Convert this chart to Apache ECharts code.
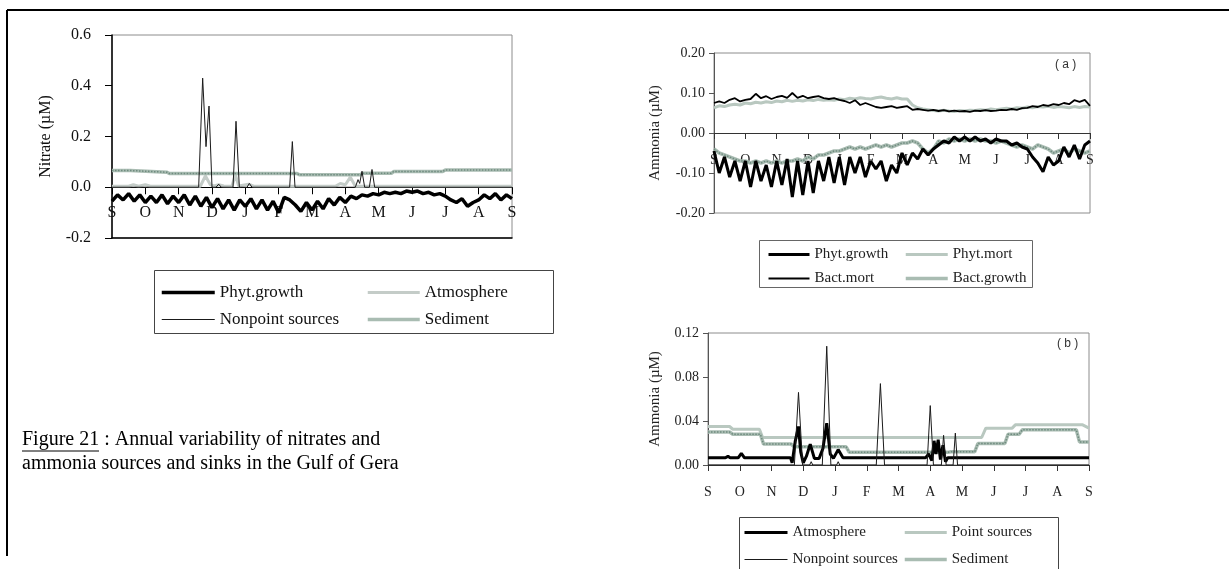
<!DOCTYPE html>
<html><head><meta charset="utf-8">
<script src="https://cdn.jsdelivr.net/npm/echarts@6/dist/echarts.min.js"></script>
<style>html,body{margin:0;padding:0;background:#fff}#c{width:1229px;height:569px}</style>
</head><body><div id="c"></div>
<script>
const MONTHS = ['S','O','N','D','J','F','M','A','M','J','J','A','S'];
const STEP = 1 / 6; // sampling step (months) for the regularly sampled series

// ---- Nitrate chart (left) ----
const nitPhytGrowth = [
 -0.055,-0.03,-0.05,-0.025,-0.055,-0.03,
 -0.06,-0.035,-0.06,-0.03,-0.065,-0.035,
 -0.06,-0.03,-0.07,-0.035,-0.075,-0.04,
 -0.08,-0.045,-0.085,-0.05,-0.09,-0.05,
 -0.075,-0.045,-0.085,-0.05,-0.09,-0.055,
 -0.1,-0.04,-0.05,-0.07,-0.095,-0.06,
 -0.09,-0.055,-0.085,-0.045,-0.07,-0.04,
 -0.06,-0.035,-0.045,-0.03,-0.035,-0.025,
 -0.03,-0.02,-0.025,-0.02,-0.025,-0.015,
 -0.02,-0.015,-0.025,-0.02,-0.03,-0.025,
 -0.035,-0.05,-0.06,-0.045,-0.075,-0.06,
 -0.05,-0.03,-0.045,-0.025,-0.05,-0.03,
 -0.045];
const nitAtmosphere = [[0,0.004],[0.5,0.004],[0.64,0.01],[0.8,0.004],[1.0,0.01],[1.15,0.004],[2.65,0.004],[2.8,0.045],[2.95,0.01],[3.05,0.005],[3.2,0.01],[3.35,0.005],[3.6,0.004],[3.7,0.05],[3.8,0.005],[4.1,0.012],[4.25,0.004],[6.7,0.004],[6.85,0.015],[7.0,0.01],[7.15,0.04],[7.3,0.004],[12,0.004]];
const nitNonpoint = [[0,0],[2.6,0],[2.72,0.43],[2.82,0.16],[2.91,0.32],[3.0,0],[3.12,0],[3.2,0.012],[3.28,0],[3.63,0],[3.72,0.26],[3.82,0],[4.05,0],[4.12,0.015],[4.2,0],[5.33,0],[5.41,0.18],[5.49,0],[7.3,0],[7.38,0.03],[7.43,0.015],[7.5,0.063],[7.58,0],[7.72,0],[7.8,0.07],[7.88,0],[12,0]];
const nitSediment = [[0,0.066],[0.55,0.066],[0.6,0.059],[1.65,0.059],[1.72,0.054],[5.55,0.054],[5.62,0.049],[7.45,0.049],[7.52,0.055],[8.38,0.055],[8.45,0.062],[9.92,0.062],[10.0,0.068],[12,0.068]];

// ---- Ammonia (a) ----
const amaPhytGrowth = [
 -0.045,-0.10,-0.06,-0.11,-0.07,-0.12,
 -0.07,-0.135,-0.07,-0.12,-0.08,-0.135,
 -0.07,-0.13,-0.065,-0.16,-0.07,-0.155,
 -0.07,-0.15,-0.07,-0.12,-0.06,-0.125,
 -0.06,-0.13,-0.06,-0.10,-0.06,-0.11,
 -0.07,-0.09,-0.07,-0.12,-0.08,-0.10,
 -0.05,-0.08,-0.05,-0.065,-0.04,-0.055,
 -0.04,-0.03,-0.02,-0.025,-0.01,-0.02,
 -0.01,-0.02,-0.01,-0.02,-0.015,-0.025,
 -0.015,-0.02,-0.02,-0.03,-0.025,-0.035,
 -0.04,-0.06,-0.075,-0.097,-0.06,-0.08,
 -0.07,-0.035,-0.06,-0.03,-0.065,-0.03,
 -0.02];
const amaPhytMort = [
 0.063,0.068,0.066,0.07,0.072,0.07,
 0.075,0.073,0.077,0.075,0.078,0.076,
 0.08,0.078,0.082,0.079,0.082,0.08,
 0.083,0.081,0.084,0.082,0.083,0.082,
 0.085,0.083,0.087,0.085,0.088,0.086,
 0.085,0.088,0.09,0.087,0.085,0.088,
 0.085,0.085,0.07,0.063,0.06,0.058,
 0.056,0.055,0.057,0.055,0.054,0.056,
 0.055,0.057,0.056,0.058,0.057,0.06,
 0.058,0.06,0.062,0.06,0.063,0.062,
 0.065,0.063,0.066,0.065,0.067,0.064,
 0.066,0.065,0.063,0.066,0.064,0.066,
 0.065];
const amaBactMort = [
 0.075,0.079,0.075,0.083,0.087,0.079,
 0.083,0.085,0.098,0.087,0.092,0.085,
 0.09,0.093,0.088,0.1,0.088,0.093,
 0.087,0.09,0.092,0.087,0.085,0.087,
 0.083,0.08,0.075,0.082,0.07,0.075,
 0.07,0.065,0.063,0.065,0.067,0.063,
 0.065,0.067,0.058,0.06,0.058,0.056,
 0.058,0.055,0.057,0.054,0.056,0.054,
 0.055,0.053,0.056,0.055,0.057,0.055,
 0.056,0.058,0.057,0.06,0.058,0.062,
 0.063,0.067,0.065,0.07,0.068,0.072,
 0.07,0.075,0.072,0.082,0.078,0.083,
 0.068];
const amaBactGrowth = [
 -0.04,-0.05,-0.055,-0.06,-0.065,-0.07,
 -0.07,-0.075,-0.07,-0.075,-0.07,-0.075,
 -0.07,-0.075,-0.07,-0.07,-0.065,-0.07,
 -0.06,-0.065,-0.055,-0.055,-0.05,-0.045,
 -0.045,-0.04,-0.035,-0.04,-0.035,-0.04,
 -0.035,-0.03,-0.035,-0.03,-0.035,-0.03,
 -0.025,-0.025,-0.02,-0.025,-0.04,-0.05,
 -0.04,-0.02,-0.025,-0.015,-0.02,-0.015,
 -0.02,-0.015,-0.02,-0.015,-0.02,-0.02,
 -0.025,-0.02,-0.025,-0.03,-0.035,-0.03,
 -0.035,-0.04,-0.03,-0.035,-0.04,-0.05,
 -0.045,-0.04,-0.05,-0.04,-0.045,-0.05,
 -0.045];

// ---- Ammonia (b) ----
const ambAtmosphere = [[0,0.0065],[0.55,0.0065],[0.63,0.008],[0.7,0.0065],[0.95,0.0065],[1.05,0.0105],[1.15,0.0065],[2.6,0.0065],[2.65,0.002],[2.75,0.022],[2.85,0.035],[2.92,0.012],[3.0,0.002],[3.1,0.008],[3.22,0.019],[3.35,0.006],[3.5,0.006],[3.62,0.015],[3.74,0.038],[3.85,0.01],[3.95,0.006],[4.1,0.014],[4.25,0.0065],[6.85,0.0065],[6.95,0.01],[7.05,0.004],[7.12,0.022],[7.18,0.01],[7.25,0.023],[7.32,0.005],[7.4,0.018],[7.48,0.003],[7.55,0.0065],[12,0.0065]];
const ambPoint = [[0,0.035],[0.68,0.035],[0.78,0.0325],[1.62,0.0325],[1.72,0.025],[8.62,0.025],[8.75,0.0335],[9.58,0.0335],[9.68,0.0365],[11.8,0.0365],[12,0.0335]];
const ambNonpoint = [[0,0],[2.72,0],[2.85,0.066],[2.98,0],[3.2,0],[3.25,0.003],[3.3,0],[3.6,0],[3.74,0.108],[3.87,0],[4.05,0],[4.1,0.003],[4.15,0],[5.3,0],[5.43,0.074],[5.56,0],[6.9,0],[7.0,0.054],[7.1,0],[7.35,0],[7.42,0.027],[7.5,0],[7.72,0],[7.79,0.029],[7.86,0],[12,0]];
const ambSediment = [[0,0.030],[0.68,0.030],[0.78,0.028],[1.65,0.028],[1.75,0.019],[2.62,0.019],[2.72,0.0165],[4.35,0.0165],[4.45,0.0115],[7.55,0.0115],[7.65,0.012],[8.4,0.012],[8.5,0.0195],[9.35,0.0195],[9.45,0.028],[9.8,0.028],[9.9,0.032],[11.6,0.032],[11.7,0.021],[12,0.021]];

const regular = arr => arr.map((v, i) => [i * STEP, v]);

const SERIF = "'Liberation Serif','Times New Roman',serif";
const BLACK = '#000';
const LIGHT = '#b9c8c0';
const SEDBAND = '#a9bcb2';
const SEDDOT = '#6f8b7f';
const monthFmt = v => MONTHS[Math.round(v)];

function line(name, data, xi, yi, color, width, z, extra) {
  return Object.assign({
    type: 'line', name: name, data: data, xAxisIndex: xi, yAxisIndex: yi,
    symbol: 'none', showSymbol: false, silent: true, animation: false, z: z,
    lineStyle: { color: color, width: width },
    itemStyle: { color: color }
  }, extra || {});
}

const legendBase = {
  orient: 'vertical', padding: 0, selectedMode: false,
  formatter: n => n.split(':').pop(),
  lineStyle: { width: 'inherit' },
  itemStyle: { opacity: 0, borderWidth: 0 }
};

const chart = echarts.init(document.getElementById('c'), null, { renderer: 'canvas' });
chart.setOption({
  animation: false,
  backgroundColor: '#fff',
  grid: [
    { left: 112, right: 1229 - 512, top: 35, bottom: 569 - 238, show: true, borderColor: '#8c8c8c', borderWidth: 1 },
    { left: 714, right: 1229 - 1090, top: 53, bottom: 569 - 213, show: true, borderColor: '#8c8c8c', borderWidth: 1 },
    { left: 708, right: 1229 - 1089, top: 333, bottom: 569 - 465, show: true, borderColor: '#8c8c8c', borderWidth: 1 }
  ],
  xAxis: [
    // nitrate: bottom frame line carrying the month labels (drawn inside, just under the zero line)
    { type: 'value', gridIndex: 0, min: 0, max: 12, interval: 1, position: 'bottom', splitLine: { show: false },
      axisLine: { onZero: false, lineStyle: { color: '#000', width: 1.5 } }, axisTick: { show: false },
      axisLabel: { inside: true, formatter: monthFmt, fontFamily: SERIF, color: '#111', fontSize: 16, margin: 17, showMaxLabel: true, showMinLabel: true } },
    // nitrate: zero line with downward ticks
    { type: 'value', gridIndex: 0, min: 0, max: 12, interval: 1, position: 'top', splitLine: { show: false },
      axisLine: { onZero: true, lineStyle: { color: '#000', width: 1 } },
      axisTick: { inside: true, length: 7, lineStyle: { color: '#000' } }, axisLabel: { show: false } },
    // ammonia (a)
    { type: 'value', gridIndex: 1, min: 0, max: 12, interval: 1, position: 'bottom', splitLine: { show: false },
      axisLine: { onZero: true, lineStyle: { color: '#333', width: 1 } },
      axisTick: { length: 6, lineStyle: { color: '#333' } },
      axisLabel: { inside: true, formatter: monthFmt, fontFamily: SERIF, color: '#222', fontSize: 14, margin: 46, showMaxLabel: true, showMinLabel: true } },
    // ammonia (b)
    { type: 'value', gridIndex: 2, min: 0, max: 12, interval: 1, position: 'bottom', splitLine: { show: false },
      axisLine: { onZero: true, lineStyle: { color: '#333', width: 1 } },
      axisTick: { length: 6, lineStyle: { color: '#333' } },
      axisLabel: { formatter: monthFmt, fontFamily: SERIF, color: '#222', fontSize: 14, margin: 20, showMaxLabel: true, showMinLabel: true } }
  ],
  yAxis: [
    { type: 'value', gridIndex: 0, min: -0.2, max: 0.6, interval: 0.2, splitLine: { show: false },
      axisLine: { show: true, lineStyle: { color: '#000', width: 1.5 } }, axisTick: { show: true, length: 7, lineStyle: { color: '#000' } },
      axisLabel: { formatter: v => v.toFixed(1), fontFamily: SERIF, fontSize: 16, color: '#111', margin: 21 },
      name: 'Nitrate (µM)', nameLocation: 'middle', nameGap: 58, nameTextStyle: { fontFamily: SERIF, fontSize: 16, color: '#111' } },
    { type: 'value', gridIndex: 1, min: -0.2, max: 0.2, interval: 0.1, splitLine: { show: false },
      axisLine: { show: true, lineStyle: { color: '#555' } }, axisTick: { show: true, length: 5, lineStyle: { color: '#555' } },
      axisLabel: { formatter: v => v.toFixed(2), fontFamily: SERIF, fontSize: 14, color: '#222', margin: 9 },
      name: 'Ammonia (µM)', nameLocation: 'middle', nameGap: 51, nameTextStyle: { fontFamily: SERIF, fontSize: 15, color: '#222' } },
    { type: 'value', gridIndex: 2, min: 0, max: 0.12, interval: 0.04, splitLine: { show: false },
      axisLine: { show: true, lineStyle: { color: '#555' } }, axisTick: { show: true, length: 5, lineStyle: { color: '#555' } },
      axisLabel: { formatter: v => v.toFixed(2), fontFamily: SERIF, fontSize: 14, color: '#222', margin: 9 },
      name: 'Ammonia (µM)', nameLocation: 'middle', nameGap: 45, nameTextStyle: { fontFamily: SERIF, fontSize: 15, color: '#222' } }
  ],
  legend: [
    Object.assign({}, legendBase, { left: 160, top: 284, itemGap: 10, itemWidth: 53, itemHeight: 14,
      data: ['n:Phyt.growth', 'n:Nonpoint sources'], textStyle: { fontFamily: SERIF, fontSize: 17, color: '#111' } }),
    Object.assign({}, legendBase, { left: 366, top: 284, itemGap: 10, itemWidth: 52, itemHeight: 14,
      data: ['n:Atmosphere', 'n:Sediment'], textStyle: { fontFamily: SERIF, fontSize: 17, color: '#111' } }),
    Object.assign({}, legendBase, { left: 767, top: 247, itemGap: 9, itemWidth: 41, itemHeight: 12,
      data: ['a:Phyt.growth', 'a:Bact.mort'], textStyle: { fontFamily: SERIF, fontSize: 15, color: '#222' } }),
    Object.assign({}, legendBase, { left: 904, top: 247, itemGap: 9, itemWidth: 42, itemHeight: 12,
      data: ['a:Phyt.mort', 'a:Bact.growth'], textStyle: { fontFamily: SERIF, fontSize: 15, color: '#222' } }),
    Object.assign({}, legendBase, { left: 743, top: 525, itemGap: 12, itemWidth: 43, itemHeight: 12,
      data: ['b:Atmosphere', 'b:Nonpoint sources'], textStyle: { fontFamily: SERIF, fontSize: 15, color: '#222' } }),
    Object.assign({}, legendBase, { left: 903, top: 525, itemGap: 12, itemWidth: 42, itemHeight: 12,
      data: ['b:Point sources', 'b:Sediment'], textStyle: { fontFamily: SERIF, fontSize: 15, color: '#222' } })
  ],
  series: [
    // nitrate
    line('n:Atmosphere', nitAtmosphere, 0, 0, '#c4ccc8', 3, 2),
    line('n:Sediment', nitSediment, 0, 0, SEDBAND, 3.5, 3),
    line('n:Sediment', nitSediment, 0, 0, SEDDOT, 1.5, 4, { lineStyle: { color: SEDDOT, width: 1.5, type: [1.5, 1.5] } }),
    line('n:Nonpoint sources', nitNonpoint, 0, 0, '#1a1a1a', 1, 5),
    line('n:Phyt.growth', regular(nitPhytGrowth), 0, 0, BLACK, 3.5, 6),
    // ammonia (a)
    line('a:Phyt.mort', regular(amaPhytMort), 2, 1, LIGHT, 3, 2),
    line('a:Bact.growth', regular(amaBactGrowth), 2, 1, SEDBAND, 3.5, 3),
    line('a:Bact.growth', regular(amaBactGrowth), 2, 1, SEDDOT, 1.5, 4, { lineStyle: { color: SEDDOT, width: 1.5, type: [1.5, 1.5] } }),
    line('a:Bact.mort', regular(amaBactMort), 2, 1, BLACK, 1.8, 5),
    line('a:Phyt.growth', regular(amaPhytGrowth), 2, 1, BLACK, 3, 6),
    // ammonia (b)
    line('b:Point sources', ambPoint, 3, 2, LIGHT, 3, 2),
    line('b:Sediment', ambSediment, 3, 2, SEDBAND, 3.5, 3),
    line('b:Sediment', ambSediment, 3, 2, SEDDOT, 1.5, 4, { lineStyle: { color: SEDDOT, width: 1.5, type: [1.5, 1.5] } }),
    line('b:Atmosphere', ambAtmosphere, 3, 2, BLACK, 3, 5),
    line('b:Nonpoint sources', ambNonpoint, 3, 2, '#1a1a1a', 1, 6)
  ],
  graphic: [
    { type: 'line', shape: { x1: 7, y1: 10, x2: 1229, y2: 10 }, style: { stroke: '#000', lineWidth: 2 }, silent: true },
    { type: 'line', shape: { x1: 7, y1: 10, x2: 7, y2: 556 }, style: { stroke: '#000', lineWidth: 2 }, silent: true },
    { type: 'rect', shape: { x: 154.5, y: 270.5, width: 399, height: 63 }, style: { fill: 'none', stroke: '#444', lineWidth: 1 }, silent: true, z: -1 },
    { type: 'rect', shape: { x: 759.5, y: 240.5, width: 273, height: 47 }, style: { fill: 'none', stroke: '#666', lineWidth: 1 }, silent: true, z: -1 },
    { type: 'rect', shape: { x: 739.5, y: 517.5, width: 319, height: 60 }, style: { fill: 'none', stroke: '#444', lineWidth: 1 }, silent: true, z: -1 },
    { type: 'text', left: 1055, top: 59, style: { text: '( a )', font: "12px 'Liberation Sans', Arial, sans-serif", fill: '#333' }, silent: true },
    { type: 'text', left: 1057, top: 338, style: { text: '( b )', font: "12px 'Liberation Sans', Arial, sans-serif", fill: '#333' }, silent: true },
    { type: 'text', left: 22, top: 430, style: { text: 'Figure 21 : Annual variability of nitrates and', font: "20px 'Liberation Serif','Times New Roman',serif", fill: '#000' }, silent: true },
    { type: 'text', left: 22, top: 454, style: { text: 'ammonia sources and sinks in the Gulf of Gera', font: "20px 'Liberation Serif','Times New Roman',serif", fill: '#000' }, silent: true },
    { type: 'line', shape: { x1: 22, y1: 451, x2: 99, y2: 451 }, style: { stroke: '#000', lineWidth: 1 }, silent: true }
  ]
});
</script></body></html>
